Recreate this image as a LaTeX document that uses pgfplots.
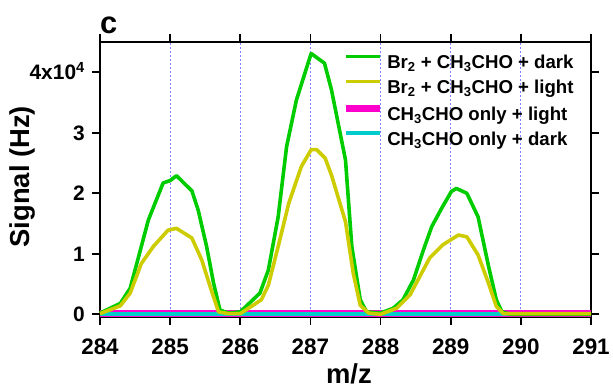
\documentclass[border=0pt]{standalone}
\usepackage{pgfplots}
\pgfplotsset{compat=1.18}
\usepackage{fontspec}
\setmainfont{Liberation Sans}
\definecolor{cgreen}{RGB}{0,204,0}
\definecolor{cyellow}{RGB}{204,204,0}
\definecolor{cmag}{RGB}{255,0,204}
\definecolor{ccyan}{RGB}{0,204,204}
\definecolor{cgrid}{RGB}{128,128,255}
\begin{document}
\begin{tikzpicture}[font=\bfseries]
\begin{axis}[
  scale only axis,
  width=491bp, height=275bp,
  xmin=284, xmax=291, ymin=-450, ymax=45000,
  axis line style={line width=1.6bp},
  tick style={line width=1.6bp, black},
  tick align=outside,
  major tick length=8bp,
  xtick={284,285,...,291},
  ytick={0,10000,20000,30000,40000},
  yticklabels={0,1,2,3,4x10\textsuperscript{4}},
  scaled y ticks=false,
  xticklabel style={font=\fontsize{22.5}{22.5}\bfseries, text height=16bp, text depth=0bp, inner sep=0pt, anchor=north, yshift=-13bp},
  yticklabel style={font=\fontsize{21}{21}\bfseries, text height=14.5bp, text depth=0bp, inner sep=0pt, anchor=east, xshift=-7bp},
  xticklabel={\pgfmathprintnumber[fixed,precision=0,1000 sep={}]{\tick}},
  /pgf/number format/assume math mode=true,
  xmajorgrids,
  major x grid style={cgrid, line width=0.9bp, dash pattern=on 2bp off 2bp},
  every axis y label/.style={at={(rel axis cs:-0.158,0.51)}, rotate=90, anchor=center, font=\fontsize{27.5}{27.5}\bfseries},
  every axis x label/.style={at={(rel axis cs:0.507,-0.243)}, anchor=base, font=\fontsize{27.5}{27.5}\bfseries},
  ylabel={Signal (Hz)},
  xlabel={m/z},
  clip=false,
  legend style={at={(rel axis cs:0.493,0.955)}, anchor=north west, draw=none, fill=none,
    font=\fontsize{18.7}{18.7}\bfseries, row sep=7bp, column sep=4bp, inner sep=0pt,
    nodes={inner sep=0pt, text height=14bp, text depth=4bp}},
  legend cell align=left,
  legend image code/.code={\draw[#1] (0bp,7bp) -- (34bp,7bp);},
]
\addplot[cmag, line width=7bp, forget plot] coordinates {
(284,150) (285,150) (286,150) (287,150) (288,150) (289,150) (290,150) (291,150)};
\addplot[ccyan, line width=4bp, forget plot] coordinates {
(284,0) (285,0) (286,0) (287,0) (288,0) (289,0) (290,0) (291,0)};
\addplot[cgreen, line width=3.6bp, line join=round] coordinates {
(284.00,200) (284.29,1800) (284.43,4300) (284.55,9500) (284.69,15600) (284.90,21700)
(285.00,22100) (285.09,22900) (285.31,20400) (285.40,17200) (285.52,11200) (285.62,5100)
(285.71,700) (285.83,200) (286.00,400) (286.28,3500) (286.40,7300) (286.54,16100)
(286.66,27700) (286.80,35400) (287.01,43100) (287.20,41500) (287.30,37100) (287.50,25500)
(287.59,11200) (287.71,2400) (287.80,400) (288.00,200) (288.18,1000) (288.32,2400)
(288.47,5700) (288.61,10600) (288.73,14500) (288.87,17500) (289.01,20300) (289.08,20800)
(289.23,20000) (289.39,16100) (289.54,7900) (289.65,2400) (289.73,400) (289.85,0) (291,0)};
\addlegendentry{Br\textsubscript{2} + CH\textsubscript{3}CHO + dark}
\addplot[cyellow, line width=3.6bp, line join=round] coordinates {
(284.00,100) (284.29,1400) (284.43,3500) (284.59,8400) (284.76,11200) (284.97,13900)
(285.09,14200) (285.31,12600) (285.45,9000) (285.57,4600) (285.69,400) (285.83,100)
(286.00,100) (286.30,2400) (286.40,4800) (286.54,11200) (286.69,18300) (286.87,24400)
(287.01,27200) (287.09,27200) (287.21,25800) (287.30,23000) (287.50,15300) (287.61,6800)
(287.71,1500) (287.83,200) (288.00,0) (288.23,1000) (288.42,3200) (288.70,9300)
(288.89,11500) (289.11,13100) (289.23,12800) (289.39,9800) (289.54,5100) (289.65,1300)
(289.75,100) (291,100)};
\addlegendentry{Br\textsubscript{2} + CH\textsubscript{3}CHO + light}
\addlegendimage{cmag, line width=7bp}
\addlegendentry{CH\textsubscript{3}CHO only + light}
\addlegendimage{ccyan, line width=4bp}
\addlegendentry{CH\textsubscript{3}CHO only + dark}
\node[anchor=base west, inner sep=0pt, font=\fontsize{31}{31}\bfseries] at (rel axis cs:0,1.0327) {c};
\end{axis}
\pgfresetboundingbox
\path[use as bounding box] ([xshift=-100bp,yshift=-72bp]current axis.south west) rectangle ([xshift=22bp,yshift=42bp]current axis.north east);
\end{tikzpicture}
\end{document}
